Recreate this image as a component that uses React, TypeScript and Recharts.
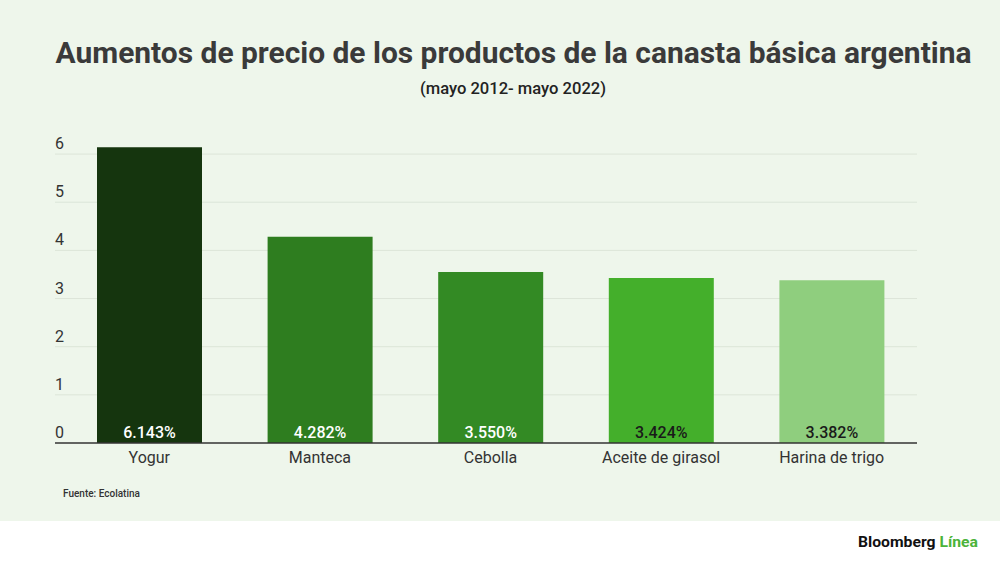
import React from 'react';
import { BarChart, Bar, XAxis, YAxis, CartesianGrid, Cell, LabelList } from 'recharts';

const categories = ['Yogur', 'Manteca', 'Cebolla', 'Aceite de girasol', 'Harina de trigo'];
const values = [6.143, 4.282, 3.55, 3.424, 3.382];
const valueLabels = ['6.143%', '4.282%', '3.550%', '3.424%', '3.382%'];
const yTicks = [0, 1, 2, 3, 4, 5, 6];
const gridValues = [1, 2, 3, 4, 5, 6];

const barColors = ['#15350E', '#2E7D1F', '#338A24', '#44AF2B', '#8FCE7E'];
const labelColors = ['#FFFFFF', '#FFFFFF', '#FFFFFF', '#1A1A1A', '#1A1A1A'];

const data = categories.map((name, i) => ({ name, value: values[i], label: valueLabels[i] }));

const FONT = 'Roboto, "Noto Sans", sans-serif';

const YTick = (props: any) => {
  const { y, payload } = props;
  return (
    <text x={55} y={y - 5} fill="#333" fontSize={16} fontFamily={FONT} textAnchor="start">
      {payload.value}
    </text>
  );
};

const XTick = (props: any) => {
  const { x, y, payload } = props;
  return (
    <text x={x} y={y + 12} fill="#333" fontSize={16} fontFamily={FONT} textAnchor="middle">
      {payload.value}
    </text>
  );
};

const ValueLabel = (props: any) => {
  const { x, y, width, height, index } = props;
  return (
    <text
      x={x + width / 2}
      y={y + height - 5}
      fill={labelColors[index]}
      fontSize={16}
      fontWeight={500}
      fontFamily={FONT}
      textAnchor="middle"
    >
      {valueLabels[index]}
    </text>
  );
};

export default function App() {
  return (
    <div style={{ position: 'absolute', left: 0, top: 0, width: 1000, height: 562, background: '#FFFFFF', overflow: 'hidden' }}>
      <div style={{ position: 'absolute', left: 0, top: 0, width: 1000, height: 521, background: '#EEF6EB' }} />
      <div style={{ position: 'absolute', left: 0, top: 0 }}>
        <BarChart width={1000} height={562} data={data} margin={{ top: 130, right: 83, bottom: 89, left: 0 }}>
          <CartesianGrid vertical={false} stroke="#DCE5D8" strokeWidth={1} horizontalValues={gridValues} />
          <XAxis
            dataKey="name"
            height={30}
            padding={{ left: 9, right: 0 }}
            axisLine={{ stroke: '#333', strokeWidth: 1.5 }}
            tickLine={false}
            tick={<XTick />}
            interval={0}
          />
          <YAxis
            width={55}
            domain={[0, 6.5]}
            ticks={yTicks}
            interval={0}
            axisLine={false}
            tickLine={false}
            tick={<YTick />}
          />
          <Bar dataKey="value" barSize={105} isAnimationActive={false}>
            {data.map((d, i) => (
              <Cell key={d.name} fill={barColors[i]} />
            ))}
            <LabelList dataKey="label" content={<ValueLabel />} />
          </Bar>
        </BarChart>
      </div>
      <svg width={1000} height={562} style={{ position: 'absolute', left: 0, top: 0, pointerEvents: 'none' }}>
        <text
          x={513.5}
          y={63}
          textAnchor="middle"
          fontFamily={FONT}
          fontSize={30}
          fontWeight={700}
          fill="#3A3A3A"
          textLength={916}
          lengthAdjust="spacingAndGlyphs"
        >
          Aumentos de precio de los productos de la canasta básica argentina
        </text>
        <text
          x={513}
          y={94}
          textAnchor="middle"
          fontFamily={FONT}
          fontSize={16}
          fontWeight={500}
          fill="#222"
          textLength={186}
          lengthAdjust="spacingAndGlyphs"
        >
          (mayo 2012- mayo 2022)
        </text>
        <text x={63} y={497} fontFamily={FONT} fontSize={10} fontWeight={500} fill="#333">
          Fuente: Ecolatina
        </text>
        <text
          x={858}
          y={547}
          fontFamily={FONT}
          fontSize={15}
          fontWeight={700}
          textLength={120}
          lengthAdjust="spacingAndGlyphs"
        >
          <tspan fill="#111">Bloomberg </tspan>
          <tspan fill="#4BB33A">Línea</tspan>
        </text>
      </svg>
    </div>
  );
}
